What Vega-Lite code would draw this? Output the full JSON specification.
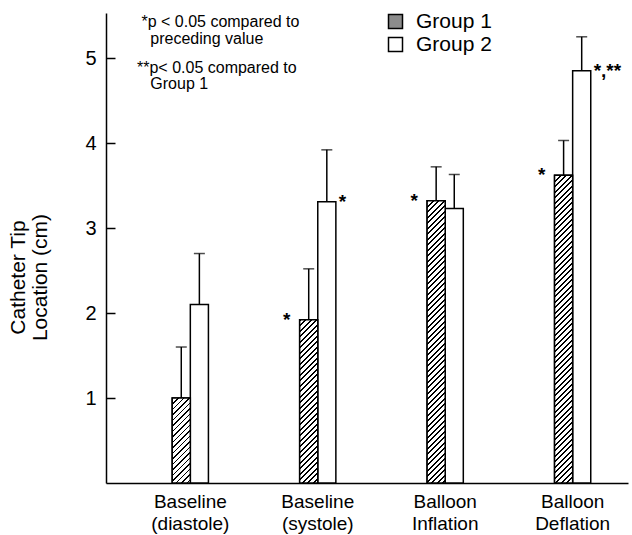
{
  "$schema": "https://vega.github.io/schema/vega-lite/v6.json",
  "width": 522,
  "height": 470,
  "autosize": "none",
  "padding": {"left": 106, "top": 13, "right": 4, "bottom": 52},
  "background": "white",
  "config": {"view": {"stroke": null}, "font": "Liberation Sans"},
  "title": {
    "text": ["\u200b\u00a0*p < 0.05 compared to", "\u200b\u00a0\u00a0\u00a0preceding value"],
    "subtitle": ["**p< 0.05 compared to", "\u200b\u00a0\u00a0\u00a0Group 1"],
    "anchor": "start", "frame": "group", "orient": "top", "offset": -81, "dx": 31,
    "font": "Liberation Sans", "fontSize": 16, "fontWeight": "normal", "color": "black", "lineHeight": 16.5,
    "subtitleFont": "Liberation Sans", "subtitleFontSize": 16, "subtitleColor": "black", "subtitleLineHeight": 16.5, "subtitlePadding": 13
  },
  "datasets": {
    "bars": [
      {"Condition": "Baseline (diastole)", "Group": "Group 1", "value": 1.0, "upper": 1.6, "sig": ""},
      {"Condition": "Baseline (diastole)", "Group": "Group 2", "value": 2.1, "upper": 2.7, "sig": ""},
      {"Condition": "Baseline (systole)", "Group": "Group 1", "value": 1.92, "upper": 2.52, "sig": "*"},
      {"Condition": "Baseline (systole)", "Group": "Group 2", "value": 3.31, "upper": 3.92, "sig": "*"},
      {"Condition": "Balloon Inflation", "Group": "Group 1", "value": 3.32, "upper": 3.72, "sig": "*"},
      {"Condition": "Balloon Inflation", "Group": "Group 2", "value": 3.23, "upper": 3.63, "sig": ""},
      {"Condition": "Balloon Deflation", "Group": "Group 1", "value": 3.62, "upper": 4.03, "sig": "*"},
      {"Condition": "Balloon Deflation", "Group": "Group 2", "value": 4.85, "upper": 5.25, "sig": "*,**"}
    ]
  },
  "data": {"name": "bars"},
  "encoding": {
    "x": {
      "field": "Condition", "type": "nominal", "sort": null,
      "scale": {"type": "band", "paddingInner": 0.716, "paddingOuter": 0.406, "align": 0.64},
      "axis": {
        "title": null, "ticks": false, "domainColor": "black", "domainWidth": 1.5,
        "labelAngle": 0, "labelFontSize": 19, "labelColor": "black", "labelFont": "Liberation Sans",
        "labelExpr": "split(datum.label, ' ')", "labelLineHeight": 22, "labelPadding": 9, "labelLimit": 0
      }
    },
    "y": {
      "field": "value", "type": "quantitative",
      "scale": {"domain": [0, 5.53], "nice": false, "zero": true},
      "axis": {
        "values": [1, 2, 3, 4, 5], "grid": false, "domainColor": "black", "domainWidth": 1.5,
        "tickColor": "black", "tickWidth": 1.5, "tickSize": -9,
        "labelFontSize": 20, "labelColor": "black", "labelFont": "Liberation Sans", "labelPadding": 19,
        "title": ["Catheter Tip", "Location (cm)"], "titleFontSize": 21, "titleFontWeight": "normal",
        "titleColor": "black", "titleFont": "Liberation Sans", "titleLineHeight": 22,
        "titleX": -78, "titleY": 264, "titleAngle": -90, "titleAlign": "center", "titleBaseline": "bottom"
      }
    }
  },
  "layer": [
    {
      "mark": {"type": "bar", "stroke": "black", "strokeWidth": 1.5},
      "encoding": {
        "xOffset": {"field": "Group", "type": "nominal", "scale": {"paddingInner": 0, "paddingOuter": 0}},
        "fill": {
          "field": "Group", "type": "nominal",
          "scale": {"range": ["#8c8c8c", "white"]},
          "legend": {
            "title": null, "orient": "none", "legendX": 279, "legendY": -2, "padding": 0,
            "symbolType": "square", "symbolSize": 196, "symbolStrokeColor": "black", "symbolStrokeWidth": 1.5,
            "labelFontSize": 21, "labelColor": "black", "labelFont": "Liberation Sans", "labelOffset": 10, "rowPadding": 1
          }
        }
      }
    },
    {
      "transform": [{"filter": "datum.Group === 'Group 1'"}],
      "mark": {
        "type": "bar", "stroke": "black", "strokeWidth": 1.5,
        "fill": {"expr": "{gradient:'linear',x1:0,y1:0,x2:5973/(327.6+pow(scale('y',0)-scale('y',datum.value),2)),y2:330*(scale('y',0)-scale('y',datum.value))/(327.6+pow(scale('y',0)-scale('y',datum.value),2)),stops:[{offset:0,color:'#fff'},{offset:0,color:'#000'},{offset:0.005,color:'#000'},{offset:0.005,color:'#fff'},{offset:0.0167,color:'#fff'},{offset:0.0167,color:'#000'},{offset:0.0217,color:'#000'},{offset:0.0217,color:'#fff'},{offset:0.0333,color:'#fff'},{offset:0.0333,color:'#000'},{offset:0.0383,color:'#000'},{offset:0.0383,color:'#fff'},{offset:0.05,color:'#fff'},{offset:0.05,color:'#000'},{offset:0.055,color:'#000'},{offset:0.055,color:'#fff'},{offset:0.0667,color:'#fff'},{offset:0.0667,color:'#000'},{offset:0.0717,color:'#000'},{offset:0.0717,color:'#fff'},{offset:0.0833,color:'#fff'},{offset:0.0833,color:'#000'},{offset:0.0883,color:'#000'},{offset:0.0883,color:'#fff'},{offset:0.1,color:'#fff'},{offset:0.1,color:'#000'},{offset:0.105,color:'#000'},{offset:0.105,color:'#fff'},{offset:0.1167,color:'#fff'},{offset:0.1167,color:'#000'},{offset:0.1217,color:'#000'},{offset:0.1217,color:'#fff'},{offset:0.1333,color:'#fff'},{offset:0.1333,color:'#000'},{offset:0.1383,color:'#000'},{offset:0.1383,color:'#fff'},{offset:0.15,color:'#fff'},{offset:0.15,color:'#000'},{offset:0.155,color:'#000'},{offset:0.155,color:'#fff'},{offset:0.1667,color:'#fff'},{offset:0.1667,color:'#000'},{offset:0.1717,color:'#000'},{offset:0.1717,color:'#fff'},{offset:0.1833,color:'#fff'},{offset:0.1833,color:'#000'},{offset:0.1883,color:'#000'},{offset:0.1883,color:'#fff'},{offset:0.2,color:'#fff'},{offset:0.2,color:'#000'},{offset:0.205,color:'#000'},{offset:0.205,color:'#fff'},{offset:0.2167,color:'#fff'},{offset:0.2167,color:'#000'},{offset:0.2217,color:'#000'},{offset:0.2217,color:'#fff'},{offset:0.2333,color:'#fff'},{offset:0.2333,color:'#000'},{offset:0.2383,color:'#000'},{offset:0.2383,color:'#fff'},{offset:0.25,color:'#fff'},{offset:0.25,color:'#000'},{offset:0.255,color:'#000'},{offset:0.255,color:'#fff'},{offset:0.2667,color:'#fff'},{offset:0.2667,color:'#000'},{offset:0.2717,color:'#000'},{offset:0.2717,color:'#fff'},{offset:0.2833,color:'#fff'},{offset:0.2833,color:'#000'},{offset:0.2883,color:'#000'},{offset:0.2883,color:'#fff'},{offset:0.3,color:'#fff'},{offset:0.3,color:'#000'},{offset:0.305,color:'#000'},{offset:0.305,color:'#fff'},{offset:0.3167,color:'#fff'},{offset:0.3167,color:'#000'},{offset:0.3217,color:'#000'},{offset:0.3217,color:'#fff'},{offset:0.3333,color:'#fff'},{offset:0.3333,color:'#000'},{offset:0.3383,color:'#000'},{offset:0.3383,color:'#fff'},{offset:0.35,color:'#fff'},{offset:0.35,color:'#000'},{offset:0.355,color:'#000'},{offset:0.355,color:'#fff'},{offset:0.3667,color:'#fff'},{offset:0.3667,color:'#000'},{offset:0.3717,color:'#000'},{offset:0.3717,color:'#fff'},{offset:0.3833,color:'#fff'},{offset:0.3833,color:'#000'},{offset:0.3883,color:'#000'},{offset:0.3883,color:'#fff'},{offset:0.4,color:'#fff'},{offset:0.4,color:'#000'},{offset:0.405,color:'#000'},{offset:0.405,color:'#fff'},{offset:0.4167,color:'#fff'},{offset:0.4167,color:'#000'},{offset:0.4217,color:'#000'},{offset:0.4217,color:'#fff'},{offset:0.4333,color:'#fff'},{offset:0.4333,color:'#000'},{offset:0.4383,color:'#000'},{offset:0.4383,color:'#fff'},{offset:0.45,color:'#fff'},{offset:0.45,color:'#000'},{offset:0.455,color:'#000'},{offset:0.455,color:'#fff'},{offset:0.4667,color:'#fff'},{offset:0.4667,color:'#000'},{offset:0.4717,color:'#000'},{offset:0.4717,color:'#fff'},{offset:0.4833,color:'#fff'},{offset:0.4833,color:'#000'},{offset:0.4883,color:'#000'},{offset:0.4883,color:'#fff'},{offset:0.5,color:'#fff'},{offset:0.5,color:'#000'},{offset:0.505,color:'#000'},{offset:0.505,color:'#fff'},{offset:0.5167,color:'#fff'},{offset:0.5167,color:'#000'},{offset:0.5217,color:'#000'},{offset:0.5217,color:'#fff'},{offset:0.5333,color:'#fff'},{offset:0.5333,color:'#000'},{offset:0.5383,color:'#000'},{offset:0.5383,color:'#fff'},{offset:0.55,color:'#fff'},{offset:0.55,color:'#000'},{offset:0.555,color:'#000'},{offset:0.555,color:'#fff'},{offset:0.5667,color:'#fff'},{offset:0.5667,color:'#000'},{offset:0.5717,color:'#000'},{offset:0.5717,color:'#fff'},{offset:0.5833,color:'#fff'},{offset:0.5833,color:'#000'},{offset:0.5883,color:'#000'},{offset:0.5883,color:'#fff'},{offset:0.6,color:'#fff'},{offset:0.6,color:'#000'},{offset:0.605,color:'#000'},{offset:0.605,color:'#fff'},{offset:0.6167,color:'#fff'},{offset:0.6167,color:'#000'},{offset:0.6217,color:'#000'},{offset:0.6217,color:'#fff'},{offset:0.6333,color:'#fff'},{offset:0.6333,color:'#000'},{offset:0.6383,color:'#000'},{offset:0.6383,color:'#fff'},{offset:0.65,color:'#fff'},{offset:0.65,color:'#000'},{offset:0.655,color:'#000'},{offset:0.655,color:'#fff'},{offset:0.6667,color:'#fff'},{offset:0.6667,color:'#000'},{offset:0.6717,color:'#000'},{offset:0.6717,color:'#fff'},{offset:0.6833,color:'#fff'},{offset:0.6833,color:'#000'},{offset:0.6883,color:'#000'},{offset:0.6883,color:'#fff'},{offset:0.7,color:'#fff'},{offset:0.7,color:'#000'},{offset:0.705,color:'#000'},{offset:0.705,color:'#fff'},{offset:0.7167,color:'#fff'},{offset:0.7167,color:'#000'},{offset:0.7217,color:'#000'},{offset:0.7217,color:'#fff'},{offset:0.7333,color:'#fff'},{offset:0.7333,color:'#000'},{offset:0.7383,color:'#000'},{offset:0.7383,color:'#fff'},{offset:0.75,color:'#fff'},{offset:0.75,color:'#000'},{offset:0.755,color:'#000'},{offset:0.755,color:'#fff'},{offset:0.7667,color:'#fff'},{offset:0.7667,color:'#000'},{offset:0.7717,color:'#000'},{offset:0.7717,color:'#fff'},{offset:0.7833,color:'#fff'},{offset:0.7833,color:'#000'},{offset:0.7883,color:'#000'},{offset:0.7883,color:'#fff'},{offset:0.8,color:'#fff'},{offset:0.8,color:'#000'},{offset:0.805,color:'#000'},{offset:0.805,color:'#fff'},{offset:0.8167,color:'#fff'},{offset:0.8167,color:'#000'},{offset:0.8217,color:'#000'},{offset:0.8217,color:'#fff'},{offset:0.8333,color:'#fff'},{offset:0.8333,color:'#000'},{offset:0.8383,color:'#000'},{offset:0.8383,color:'#fff'},{offset:0.85,color:'#fff'},{offset:0.85,color:'#000'},{offset:0.855,color:'#000'},{offset:0.855,color:'#fff'},{offset:0.8667,color:'#fff'},{offset:0.8667,color:'#000'},{offset:0.8717,color:'#000'},{offset:0.8717,color:'#fff'},{offset:0.8833,color:'#fff'},{offset:0.8833,color:'#000'},{offset:0.8883,color:'#000'},{offset:0.8883,color:'#fff'},{offset:0.9,color:'#fff'},{offset:0.9,color:'#000'},{offset:0.905,color:'#000'},{offset:0.905,color:'#fff'},{offset:0.9167,color:'#fff'},{offset:0.9167,color:'#000'},{offset:0.9217,color:'#000'},{offset:0.9217,color:'#fff'},{offset:0.9333,color:'#fff'},{offset:0.9333,color:'#000'},{offset:0.9383,color:'#000'},{offset:0.9383,color:'#fff'},{offset:0.95,color:'#fff'},{offset:0.95,color:'#000'},{offset:0.955,color:'#000'},{offset:0.955,color:'#fff'},{offset:0.9667,color:'#fff'},{offset:0.9667,color:'#000'},{offset:0.9717,color:'#000'},{offset:0.9717,color:'#fff'},{offset:0.9833,color:'#fff'},{offset:0.9833,color:'#000'},{offset:0.9883,color:'#000'},{offset:0.9883,color:'#fff'},{offset:1,color:'#fff'}]}"}
      },
      "encoding": {
        "xOffset": {"field": "Group", "type": "nominal"}
      }
    },
    {
      "mark": {"type": "rule", "color": "black", "strokeWidth": 1.5},
      "encoding": {
        "xOffset": {"field": "Group", "type": "nominal"},
        "y2": {"field": "upper"}
      }
    },
    {
      "mark": {"type": "tick", "color": "black", "size": 11, "thickness": 1.5, "orient": "horizontal"},
      "encoding": {
        "xOffset": {"field": "Group", "type": "nominal"},
        "y": {"field": "upper", "type": "quantitative"}
      }
    },
    {
      "transform": [{"filter": "datum.Group === 'Group 1' && datum.sig !== ''"}],
      "mark": {"type": "text", "align": "center", "baseline": "alphabetic", "dx": -22, "dy": 6, "fontSize": 19, "fontWeight": "bold", "color": "black"},
      "encoding": {
        "xOffset": {"field": "Group", "type": "nominal"},
        "text": {"field": "sig"}
      }
    },
    {
      "transform": [{"filter": "datum.Group === 'Group 2' && datum.sig !== ''"}],
      "mark": {"type": "text", "align": "left", "baseline": "alphabetic", "dx": 12, "dy": 6, "fontSize": 19, "fontWeight": "bold", "color": "black"},
      "encoding": {
        "xOffset": {"field": "Group", "type": "nominal"},
        "text": {"field": "sig"}
      }
    }
  ]
}
